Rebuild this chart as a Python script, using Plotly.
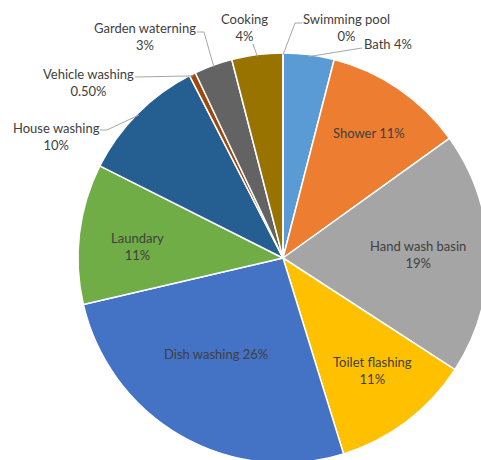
import math
import plotly.graph_objects as go

# ---- data ----
labels = ["Bath", "Shower", "Hand wash basin", "Toilet flashing", "Dish washing",
          "Laundary", "House washing", "Vehicle washing", "Garden waterning",
          "Cooking", "Swimming pool"]
values = [4, 11, 19, 11, 26, 11, 10, 0.5, 3, 4, 0]
pct_labels = ["4%", "11%", "19%", "11%", "26%", "11%", "10%", "0.50%", "3%", "4%", "0%"]

# ---- style ----
colors = ["#5B9BD5", "#ED7D31", "#A5A5A5", "#FFC000", "#4472C4", "#70AD47",
          "#255E91", "#9E480E", "#636363", "#997300", "#264478"]
W, H = 495, 470          # figure size (larger than the window; overflow hidden)
OFF = 0                  # body margin removed
CX, CY, R = 283, 258, 205  # pie centre / radius in screen pixels
FONT = dict(family="Lato, 'Open Sans', sans-serif", size=13, color="#404040")

# label layout: ("in", radial fraction, angle offset deg, separator)
#            or ("out", text centre px, leader path px near text, separator)
label_style = {
    "Bath": ("out", (388, 44), [(362, 48)], " "),
    "Shower": ("in", 0.74, 0.0, " "),
    "Hand wash basin": ("in", 0.66, 0.0, "<br>"),
    "Toilet flashing": ("in", 0.70, -1.5, "<br>"),
    "Dish washing": ("in", 0.57, 5.0, " "),
    "Laundary": ("in", 0.71, -2.3, "<br>"),
    "House washing": ("out", (56, 136), [(100, 130), (107, 130)], "<br>"),
    "Vehicle washing": ("out", (88, 82), [(135, 77)], "<br>"),
    "Garden waterning": ("out", (145, 36), [(197, 32), (204, 32)], "<br>"),
    "Cooking": ("out", (244, 28), [(253, 44)], "<br>"),
    "Swimming pool": ("out", (346, 28), [(302, 23), (295, 23)], "<br>"),
}


def to_paper(x, y):
    return (x - OFF) / W, 1 - (y - OFF) / H


dx0, dy1 = to_paper(CX - R, CY - R)
dx1, dy0 = to_paper(CX + R, CY + R)

fig = go.Figure(go.Pie(
    labels=labels, values=values, sort=False, direction="clockwise", rotation=0,
    marker=dict(colors=colors, line=dict(color="white", width=1.5)),
    textinfo="none", hoverinfo="label+percent", showlegend=False,
    domain=dict(x=[dx0, dx1], y=[dy0, dy1]),
))

total = sum(values)
cum = 0.0
annotations = []
shapes = []
for lab, val, pct in zip(labels, values, pct_labels):
    mid = (cum + val / 2) / total * 2 * math.pi
    cum += val
    st = label_style[lab]
    if st[0] == "in":
        f, off, sep = st[1], st[2], st[3]
        a = mid + math.radians(off)
        px = CX + f * R * math.sin(a)
        py = CY - f * R * math.cos(a)
        x, y = to_paper(px, py)
        annotations.append(dict(x=x, y=y, xref="paper", yref="paper", text=lab + sep + pct,
                                showarrow=False, font=FONT, xanchor="center", yanchor="middle"))
    else:
        (tx, ty), pts, sep = st[1], st[2], st[3]
        x, y = to_paper(tx, ty)
        annotations.append(dict(x=x, y=y, xref="paper", yref="paper", text=lab + sep + pct,
                                showarrow=False, font=FONT, xanchor="center", yanchor="middle"))
        ex = CX + (R - 2) * math.sin(mid)
        ey = CY - (R - 2) * math.cos(mid)
        path_pts = pts + [(ex, ey)]
        d = ""
        for i, (a, b) in enumerate(path_pts):
            pa, pb = to_paper(a, b)
            d += ("M" if i == 0 else " L") + f"{pa:.5f},{pb:.5f}"
        shapes.append(dict(type="path", path=d, xref="paper", yref="paper",
                           line=dict(color="#A6A6A6", width=1)))

fig.update_layout(
    width=W, height=H, margin=dict(l=0, r=0, t=0, b=0),
    paper_bgcolor="white", plot_bgcolor="white",
    annotations=annotations, shapes=shapes, font=FONT,
)
fig.write_html(
    "out.html",
    config={"displayModeBar": False},
    post_script="document.documentElement.style.overflow='hidden';"
                "document.body.style.overflow='hidden';document.body.style.margin='0';",
)
